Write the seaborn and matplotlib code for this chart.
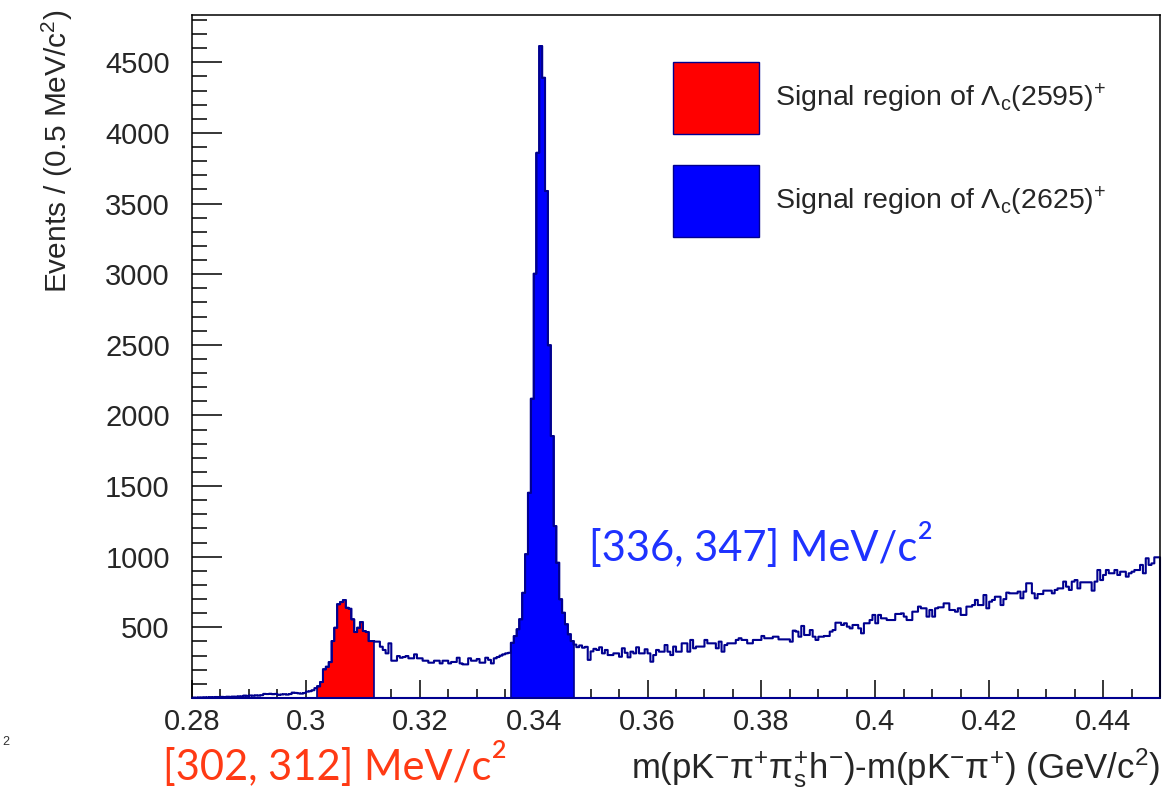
import numpy as np
import pandas as pd
import seaborn as sns
import matplotlib
matplotlib.use("Agg")
import matplotlib.pyplot as plt
from matplotlib.ticker import MultipleLocator, FixedLocator, FixedFormatter
from matplotlib.patches import Patch

# ---- binning of the mass-difference spectrum (GeV/c^2) ----
bin_low, bin_high, bin_width = 0.28, 0.45, 0.0005

# events per 0.5 MeV/c^2 bin, split by mass-difference range
counts_low = [3, 2, 4, 3, 5, 4, 6, 5, 7, 6,
              8, 7, 9, 8, 10, 9, 12, 11, 17, 15,
              18, 16, 19, 17, 20, 29, 28, 30, 27, 29,
              22, 25, 27, 24, 28, 38, 36, 33, 31, 35,
              45, 48, 55, 70]                                   # 0.280 - 0.302
counts_2595 = [82, 113, 202, 222, 254, 403, 498, 663, 679, 693,
               639, 632, 556, 467, 498, 537, 474, 467, 403, 403]  # 0.302 - 0.312
counts_mid = [399, 399, 363, 340, 316, 387, 264, 264, 297, 285,
              290, 297, 281, 281, 309, 281, 281, 264, 264, 250,
              250, 264, 264, 245, 264, 264, 245, 255, 255, 285,
              245, 238, 238, 281, 264, 264, 276, 250, 250, 285,
              270, 245, 281, 290, 300, 309, 316, 320]          # 0.312 - 0.336
counts_2625 = [391, 438, 486, 556, 745, 1017, 1453, 2119, 3004, 3860,
               4615, 4391, 3589, 2496, 1854, 1217, 958, 698, 604, 521,
               450, 403]                                        # 0.336 - 0.347
counts_high = [378, 360, 372, 356, 362, 270, 330, 348,
               340, 359, 316, 340, 304, 304, 316, 316,
               292, 352, 320, 288, 328, 316, 359, 316,
               316, 345, 316, 257, 304, 340, 328, 328,
               375, 328, 304, 364, 328, 328, 387, 387,
               328, 411, 352, 364, 364, 364, 411, 387,
               387, 387, 352, 399, 328, 375, 387, 387,
               387, 411, 423, 411, 411, 387, 387, 411,
               411, 411, 439, 423, 423, 423, 434, 434,
               415, 415, 415, 415, 399, 477, 470, 434,
               510, 446, 446, 481, 434, 411, 434, 434,
               439, 439, 470, 481, 533, 533, 517, 529,
               505, 493, 517, 517, 493, 458, 529, 529,
               552, 588, 529, 588, 564, 564, 552, 552,
               552, 595, 595, 599, 576, 552, 552, 611,
               611, 647, 635, 635, 576, 623, 576, 635,
               642, 642, 670, 670, 623, 623, 611, 635,
               588, 588, 647, 647, 658, 694, 658, 658,
               729, 635, 682, 694, 717, 717, 658, 700,
               746, 741, 741, 741, 753, 706, 753, 812,
               812, 741, 706, 736, 736, 760, 760, 760,
               741, 765, 776, 776, 824, 788, 765, 824,
               835, 776, 819, 819, 819, 819, 760, 824,
               906, 835, 871, 906, 883, 883, 906, 871,
               894, 894, 859, 883, 894, 906, 906, 942,
               883, 989, 942, 953, 996, 996]                    # 0.347 - 0.450

region_2595 = (0.302, 0.312)
region_2625 = (0.336, 0.347)

x_ticks = [0.28, 0.30, 0.32, 0.34, 0.36, 0.38, 0.40, 0.42, 0.44]
x_tick_labels = ["0.28", "0.3", "0.32", "0.34", "0.36", "0.38", "0.4", "0.42", "0.44"]
y_ticks = [500, 1000, 1500, 2000, 2500, 3000, 3500, 4000, 4500]
y_max = 4835

legend_labels = [r"Signal region of $\Lambda_{\rm c}$(2595)$^{+}$",
                 r"Signal region of $\Lambda_{\rm c}$(2625)$^{+}$"]
label_2595 = "[302, 312] MeV/c"
label_2625 = "[336, 347] MeV/c"

NAVY = "#00008f"
RED = "#ff0000"
BLUE = "#0000ff"
NOTE_RED = "#ff3a14"
NOTE_BLUE = "#1e32ff"

# ---- style ----
sns.set_theme(style="white")
plt.rcParams.update({
    "font.family": ["Liberation Sans", "DejaVu Sans"],
    "mathtext.fontset": "custom",
    "mathtext.rm": "Liberation Sans",
    "mathtext.it": "Liberation Sans:italic",
    "mathtext.default": "regular",
    "axes.edgecolor": "black",
    "axes.linewidth": 1.1,
})

counts = np.array(counts_low + counts_2595 + counts_mid + counts_2625 + counts_high, dtype=float)
n_bins = len(counts)
centers = bin_low + bin_width * (np.arange(n_bins) + 0.5)
df = pd.DataFrame({"dm": centers, "events": counts})

W, H = 1168, 789
fig = plt.figure(figsize=(W / 100, H / 100), dpi=100)
ax = fig.add_axes([192 / W, 1 - 698 / H, 968 / W, 683 / H])

# filled signal windows
for (lo, hi), face in [(region_2595, RED), (region_2625, BLUE)]:
    sel = df[(df.dm > lo) & (df.dm < hi)]
    sns.histplot(data=sel, x="dm", weights="events",
                 bins=len(sel), binrange=(lo, hi),
                 element="step", fill=True, color=face,
                 facecolor=face, edgecolor=NAVY,
                 alpha=1, linewidth=1.2, ax=ax)

# full spectrum outline
sns.histplot(data=df, x="dm", weights="events",
             bins=n_bins, binrange=(bin_low, bin_high),
             element="step", fill=True, color=NAVY,
             facecolor="none", edgecolor=NAVY,
             alpha=1, linewidth=1.5, ax=ax)
ax.collections[-1].set_clip_on(False)

ax.set_xlim(bin_low, bin_high)
ax.set_ylim(0, y_max)
ax.set_xlabel("")
ax.set_ylabel("")

ax.xaxis.set_major_locator(FixedLocator(x_ticks))
ax.xaxis.set_major_formatter(FixedFormatter(x_tick_labels))
ax.xaxis.set_minor_locator(MultipleLocator(0.005))
ax.yaxis.set_major_locator(FixedLocator(y_ticks))
ax.yaxis.set_minor_locator(MultipleLocator(100))

ax.tick_params(axis="both", which="both", direction="in", color="black",
               width=1.1, top=False, right=False, left=True, bottom=True)
ax.tick_params(axis="x", which="major", length=13, pad=7, labelsize=21)
ax.tick_params(axis="x", which="minor", length=6.5)
ax.tick_params(axis="y", which="major", length=21.5, pad=16, labelsize=21)
ax.tick_params(axis="y", which="minor", length=10.8)
ax.spines["bottom"].set_color(NAVY)
for s in ax.spines.values():
    s.set_linewidth(1.1)

# legend of the two signal windows
handles = [Patch(facecolor=RED, edgecolor=NAVY, linewidth=1.0),
           Patch(facecolor=BLUE, edgecolor=NAVY, linewidth=1.0)]
fs_leg = 20.5
px_per_em = fs_leg * 100 / 72
box_h = (72 / px_per_em - 0.245) / 0.65
ax.legend(handles, legend_labels, loc="upper left",
          bbox_to_anchor=(673 / W, 1 - 62 / H), bbox_transform=fig.transFigure,
          frameon=False, fontsize=fs_leg, borderpad=0, borderaxespad=0,
          handlelength=86 / px_per_em, handleheight=box_h,
          handletextpad=16 / px_per_em, labelspacing=31 / px_per_em)

# axis titles
fig.text(57 / W, 1 - 9 / H, r"Events / (0.5 MeV/c$^{2}$)", rotation=90,
         ha="center", va="top", fontsize=21.5)
fig.text(1160 / W, 1 - 768 / H,
         r"m(pK$^{-}\pi^{+}\pi_{s}^{+}$h$^{-}$)-m(pK$^{-}\pi^{+}$) (GeV/c$^{2}$)",
         ha="right", va="center", fontsize=25)

# signal window annotations, with a raised "2" after the unit
fig.canvas.draw()
renderer = fig.canvas.get_renderer()
for x0, base, txt, col in [(589, 561, label_2625, NOTE_BLUE),
                           (163, 780, label_2595, NOTE_RED)]:
    t = fig.text(x0 / W, 1 - base / H, txt, ha="left", va="baseline",
                 fontsize=30, color=col, family=["Lato", "DejaVu Sans"])
    bb = t.get_window_extent(renderer)
    fig.text((bb.x1 + 1) / W, 1 - (base - 41) / H, "2", ha="left", va="top",
             fontsize=18, fontweight="semibold", color=col,
             family=["Lato", "DejaVu Sans"])

fig.text(2 / W, 1 - 745 / H, "2", ha="left", va="baseline", fontsize=9, color="#333333")

fig.savefig("out.png", dpi=100)
